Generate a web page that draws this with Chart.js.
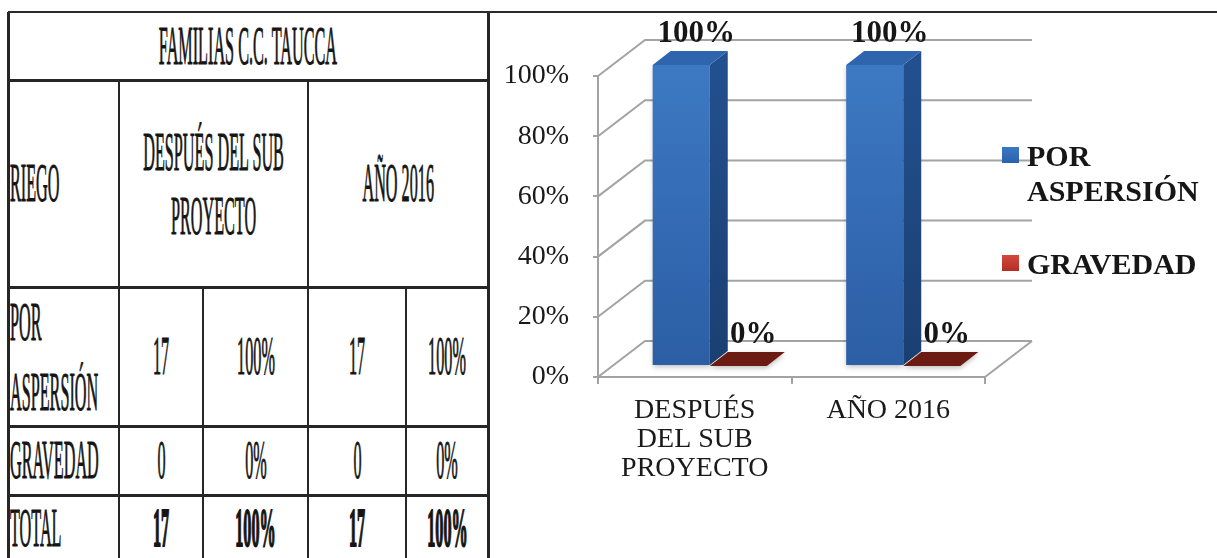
<!DOCTYPE html>
<html lang="es">
<head>
<meta charset="utf-8">
<title>Riego - Familias C.C. Taucca</title>
<script src="https://cdn.jsdelivr.net/npm/chart.js@4.4.1/dist/chart.umd.min.js"></script>
<style>
  html, body { margin: 0; padding: 0; background: #fff; }
  body {
    position: relative;
    width: 1217px;
    height: 558px;
    overflow: hidden;
    font-family: 'Liberation Serif', 'Times New Roman', serif;
    color: #151515;
  }
  #rule { position: absolute; left: 8px; right: 0; top: 11px; height: 2px; background: #2b2b2b; }
  #tabla { position: absolute; left: 0; top: 0; width: 492px; height: 558px; }
  .line { position: absolute; background: #262626; }
  .cell {
    position: absolute;
    display: flex;
    align-items: center;
    justify-content: center;
  }
  .cell.left { justify-content: flex-start; padding-left: 2px; box-sizing: border-box; }
  .cell span {
    display: inline-block;
    white-space: nowrap;
    font-size: 54px;
    line-height: 1.15;
    text-align: center;
    -webkit-text-stroke: 1px #151515;
    transform: scaleX(0.3);
    transform-origin: center center;
  }
  .cell.left span { text-align: left; transform-origin: left center; }
  .cell span.bold { font-weight: bold; -webkit-text-stroke: 2px #151515; }
  #chartBox { position: absolute; left: 490px; top: 0; width: 727px; height: 558px; }
</style>
</head>
<body>
<div id="tabla"></div>
<div id="chartBox"><canvas id="grafico"></canvas></div>
<div id="rule"></div>

<script>
// ---- datos ----
const tituloTabla = 'FAMILIAS C.C. TAUCCA';
const periodos = [['DESPUÉS', 'DEL SUB', 'PROYECTO'], 'AÑO 2016'];
const tiposRiego = ['POR ASPERSIÓN', 'GRAVEDAD'];
const conteoAspersion = [17, 17];
const conteoGravedad = [0, 0];
const conteoTotal = [17, 17];
const pctAspersion = [100, 100];
const pctGravedad = [0, 0];
const pctTotal = [100, 100];
const ticksY = [0, 20, 40, 60, 80, 100];

// ---- tabla ----
const colX = [8, 119, 203, 308, 406, 488];
const rowY = [12, 80, 287, 426, 495, 561];
const tabla = document.getElementById('tabla');

function line(x, y, w, h) {
  const d = document.createElement('div');
  d.className = 'line';
  Object.assign(d.style, { left: x + 'px', top: y + 'px', width: w + 'px', height: h + 'px' });
  tabla.appendChild(d);
}

function cell(c0, c1, r, html, opts = {}) {
  const d = document.createElement('div');
  d.className = 'cell' + (opts.left ? ' left' : '');
  Object.assign(d.style, {
    left: colX[c0] + 'px', width: (colX[c1] - colX[c0]) + 'px',
    top: rowY[r] + 'px', height: (rowY[r + 1] - rowY[r]) + 'px'
  });
  const s = document.createElement('span');
  if (opts.bold) s.className = 'bold';
  if (opts.lh) s.style.lineHeight = opts.lh + 'px';
  s.innerHTML = html;
  d.appendChild(s);
  tabla.appendChild(d);
}

// horizontal rules
rowY.slice(0, 5).forEach((y, i) => line(colX[0], y - 1, colX[5] - colX[0] + 2, i === 0 ? 2 : 3));
// outer sides
line(colX[0] - 1, rowY[0], 3, 558);
line(colX[5] - 1, rowY[0], 3, 558);
// inner dividers
line(colX[1] - 1, rowY[1], 2, 558);
line(colX[3] - 1, rowY[1], 2, 558);
line(colX[2] - 1, rowY[2], 2, 558);
line(colX[4] - 1, rowY[2], 2, 558);

cell(0, 5, 0, tituloTabla);
cell(0, 1, 1, 'RIEGO', { left: true });
cell(1, 3, 1, periodos[0].slice(0, 2).join(' ') + '<br>' + periodos[0][2], { lh: 64 });
cell(3, 5, 1, periodos[1]);

const filas = [
  { nombre: 'POR<br>ASPERSIÓN', n: conteoAspersion, p: pctAspersion, lh: 70 },
  { nombre: 'GRAVEDAD', n: conteoGravedad, p: pctGravedad },
  { nombre: 'TOTAL', n: conteoTotal, p: pctTotal, bold: true }
];
filas.forEach((f, i) => {
  const r = i + 2;
  cell(0, 1, r, f.nombre, { left: true, lh: f.lh });
  cell(1, 2, r, String(f.n[0]), { bold: f.bold });
  cell(2, 3, r, f.p[0] + '%', { bold: f.bold });
  cell(3, 4, r, String(f.n[1]), { bold: f.bold });
  cell(4, 5, r, f.p[1] + '%', { bold: f.bold });
});

// ---- gráfico 3D ----
const gridColor = '#a3a3a3';
const wall = { dx: 47, dy: -36 };      // offset to the back wall
const shift = { dx: 15, dy: -11 };     // front face of the bars
const thick = { dx: 18, dy: -14 };     // bar depth
const caras = [
  { front: ['#3d79c3', '#2b5ea5'], side: ['#22508e', '#1b3f72'], top: '#2f64ae', legend: ['#3b78c4', '#2a62ab'] },
  { front: ['#b2352b', '#8e2219'], side: ['#7a1c14', '#5e140e'], top: '#6c1b13', legend: ['#d3493d', '#b22f26'] }
];

function poly(ctx, pts, fill) {
  ctx.beginPath();
  ctx.moveTo(pts[0][0], pts[0][1]);
  pts.slice(1).forEach(p => ctx.lineTo(p[0], p[1]));
  ctx.closePath();
  ctx.fillStyle = fill;
  ctx.fill();
}

const box3d = {
  id: 'box3d',
  beforeDatasetsDraw(chart) {
    const { ctx, chartArea: { left, right, bottom }, scales: { y } } = chart;
    ctx.save();
    ctx.strokeStyle = gridColor;
    ctx.lineWidth = 2;
    ticksY.forEach(v => {
      const py = y.getPixelForValue(v);
      ctx.beginPath();
      ctx.moveTo(left, py);
      ctx.lineTo(left + wall.dx, py + wall.dy);
      ctx.lineTo(right + wall.dx, py + wall.dy);
      ctx.stroke();
    });
    ctx.beginPath();
    ctx.moveTo(right, bottom);
    ctx.lineTo(right + wall.dx, bottom + wall.dy);
    ctx.stroke();
    ctx.restore();
  },
  afterDatasetsDraw(chart) {
    const { ctx } = chart;
    ctx.save();
    chart.data.datasets.forEach((ds, di) => {
      const meta = chart.getDatasetMeta(di);
      const st = caras[di];
      meta.data.forEach(bar => {
        const { x, y, base, width } = bar.getProps(['x', 'y', 'base', 'width'], true);
        const x0 = x - width / 2 + shift.dx, x1 = x + width / 2 + shift.dx;
        const yt = y + shift.dy, yb = base + shift.dy;
        ctx.shadowColor = 'rgba(0,0,0,0.25)';
        ctx.shadowBlur = 5;
        ctx.shadowOffsetY = 2;
        if (yb - yt > 0.5) {
          const g = ctx.createLinearGradient(0, yt, 0, yb);
          g.addColorStop(0, st.front[0]);
          g.addColorStop(1, st.front[1]);
          ctx.fillStyle = g;
          ctx.fillRect(x0, yt, x1 - x0, yb - yt);
          ctx.shadowColor = 'transparent';
          const gs = ctx.createLinearGradient(0, yt, 0, yb);
          gs.addColorStop(0, st.side[0]);
          gs.addColorStop(1, st.side[1]);
          poly(ctx, [[x1, yt], [x1 + thick.dx, yt + thick.dy], [x1 + thick.dx, yb + thick.dy], [x1, yb]], gs);
        }
        poly(ctx, [[x0, yt], [x1, yt], [x1 + thick.dx, yt + thick.dy], [x0 + thick.dx, yt + thick.dy]], st.top);
        ctx.shadowColor = 'transparent';
      });
    });

    // value labels
    ctx.font = 'bold 31px "Liberation Serif", serif';
    ctx.fillStyle = '#161616';
    ctx.textAlign = 'center';
    ctx.textBaseline = 'alphabetic';
    chart.data.datasets.forEach((ds, di) => {
      chart.getDatasetMeta(di).data.forEach((bar, i) => {
        const { x, y } = bar.getProps(['x', 'y'], true);
        ctx.fillText(ds.data[i] + '%', x + shift.dx + thick.dx / 2 + 6, y + shift.dy - 23);
      });
    });
    ctx.restore();
  },
  afterDraw(chart) {
    const { ctx, chartArea: { right, top } } = chart;
    ctx.save();
    ctx.font = 'bold 30px "Liberation Serif", serif';
    ctx.textAlign = 'left';
    ctx.textBaseline = 'alphabetic';
    const sx = right + 17, tx = sx + 25, maxW = 727 - tx - 4;
    let sy = top + 71;
    chart.data.datasets.forEach((ds, di) => {
      const g = ctx.createLinearGradient(0, sy, 0, sy + 16);
      g.addColorStop(0, caras[di].legend[0]);
      g.addColorStop(1, caras[di].legend[1]);
      ctx.fillStyle = g;
      ctx.fillRect(sx, sy, 17, 16);
      // word wrap
      const words = ds.label.split(' ');
      const lines = [];
      let cur = '';
      words.forEach(w => {
        const t = cur ? cur + ' ' + w : w;
        if (ctx.measureText(t).width > maxW && cur) { lines.push(cur); cur = w; } else cur = t;
      });
      lines.push(cur);
      ctx.fillStyle = '#161616';
      lines.forEach((l, k) => ctx.fillText(l, tx, sy + 19 + k * 35));
      sy += lines.length * 35 + 38;
    });
    ctx.restore();
  }
};

new Chart(document.getElementById('grafico').getContext('2d'), {
  type: 'bar',
  data: {
    labels: periodos,
    datasets: [
      { label: tiposRiego[0], data: pctAspersion, backgroundColor: 'transparent', borderWidth: 0 },
      { label: tiposRiego[1], data: pctGravedad, backgroundColor: 'transparent', borderWidth: 0 }
    ]
  },
  options: {
    responsive: true,
    maintainAspectRatio: false,
    animation: false,
    layout: { padding: { left: 0, top: 76, right: 232, bottom: 0 } },
    datasets: { bar: { categoryPercentage: 0.59, barPercentage: 1 } },
    plugins: { legend: { display: false }, tooltip: { enabled: false } },
    scales: {
      x: {
        offset: true,
        grid: { offset: true, drawOnChartArea: false, drawTicks: true, tickLength: 7, color: gridColor, lineWidth: 2 },
        border: { display: true, color: gridColor, width: 2 },
        ticks: {
          color: '#1a1a1a',
          padding: 12,
          maxRotation: 0,
          font: { family: 'Liberation Serif', size: 28, lineHeight: 1.04 }
        },
        afterFit(scale) { scale.height = 181; }
      },
      y: {
        min: 0,
        max: 100,
        afterBuildTicks(scale) { scale.ticks = ticksY.map(v => ({ value: v })); },
        grid: { drawOnChartArea: false, drawTicks: true, tickLength: 5, color: gridColor, lineWidth: 2 },
        border: { display: true, color: gridColor, width: 2 },
        ticks: {
          color: '#1a1a1a',
          padding: 24,
          font: { family: 'Liberation Serif', size: 28 },
          callback: v => v + '%'
        },
        afterFit(scale) { scale.width = 108; }
      }
    }
  },
  plugins: [box3d]
});
</script>
</body>
</html>
